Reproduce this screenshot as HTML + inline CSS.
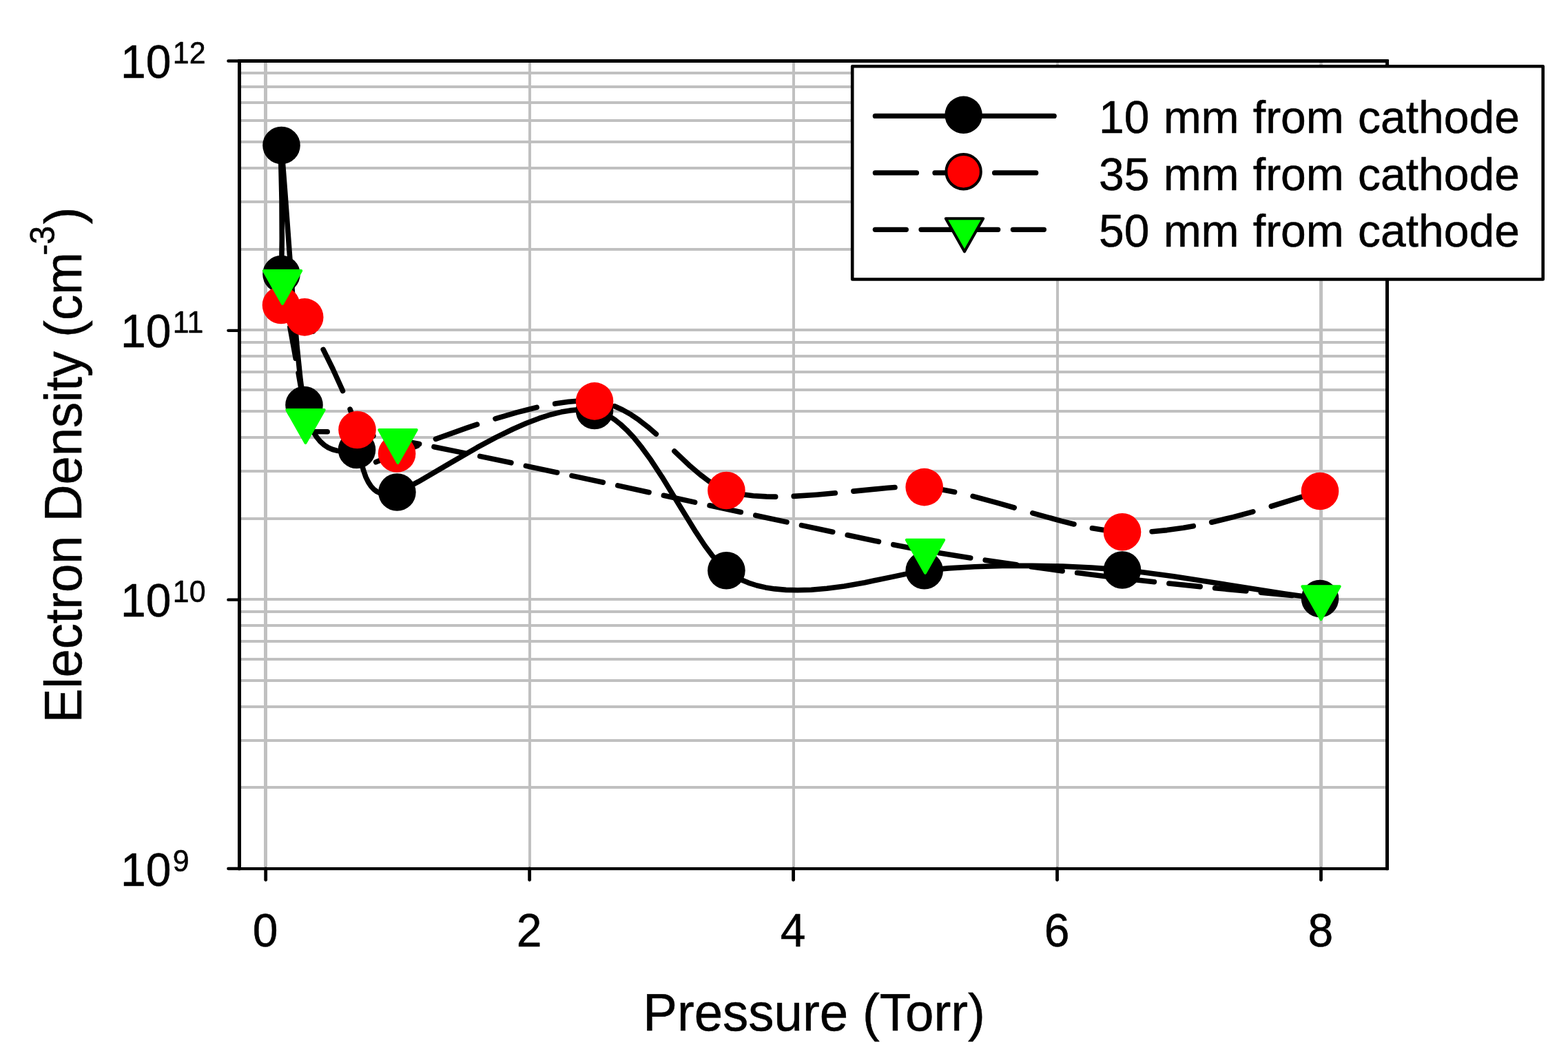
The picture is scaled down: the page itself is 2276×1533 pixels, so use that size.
<!DOCTYPE html>
<html lang="en"><head><meta charset="utf-8"><title>Electron Density vs Pressure</title>
<style>html,body{margin:0;padding:0;background:#fff}body{width:2276px;height:1533px;overflow:hidden}svg{display:block}text{font-family:"Liberation Sans",sans-serif;fill:#000;stroke:#000;stroke-width:0.5px;stroke-linejoin:round}</style>
</head><body>
<svg width="2276" height="1533" viewBox="0 0 2276 1533">
<rect x="0" y="0" width="2276" height="1533" fill="#fff"/>
<g fill="#c0c0c0" shape-rendering="crispEdges">
<rect x="350" y="1141" width="1661" height="4"/>
<rect x="350" y="1073" width="1661" height="4"/>
<rect x="350" y="1024" width="1661" height="4"/>
<rect x="350" y="986" width="1661" height="4"/>
<rect x="350" y="955" width="1661" height="4"/>
<rect x="350" y="929" width="1661" height="4"/>
<rect x="350" y="906" width="1661" height="4"/>
<rect x="350" y="886" width="1661" height="4"/>
<rect x="350" y="868" width="1661" height="4"/>
<rect x="350" y="751" width="1661" height="4"/>
<rect x="350" y="682" width="1661" height="4"/>
<rect x="350" y="633" width="1661" height="4"/>
<rect x="350" y="595" width="1661" height="4"/>
<rect x="350" y="564" width="1661" height="4"/>
<rect x="350" y="538" width="1661" height="4"/>
<rect x="350" y="515" width="1661" height="4"/>
<rect x="350" y="495" width="1661" height="4"/>
<rect x="350" y="477" width="1661" height="4"/>
<rect x="350" y="360" width="1661" height="4"/>
<rect x="350" y="291" width="1661" height="4"/>
<rect x="350" y="242" width="1661" height="4"/>
<rect x="350" y="204" width="1661" height="4"/>
<rect x="350" y="173" width="1661" height="4"/>
<rect x="350" y="147" width="1661" height="4"/>
<rect x="350" y="124" width="1661" height="4"/>
<rect x="350" y="104" width="1661" height="4"/>
<rect x="383" y="91" width="5" height="1168"/>
<rect x="767" y="91" width="4" height="1168"/>
<rect x="1150" y="91" width="4" height="1168"/>
<rect x="1533" y="91" width="4" height="1168"/>
<rect x="1915" y="91" width="5" height="1168"/>
</g>
<g fill="none" stroke="#000" stroke-width="7.6" stroke-linecap="round" stroke-linejoin="round">
<path d="M408.5,398.0 L409.3,347.0 L409.0,289.3 L407.3,216.4 L407.1,199.3 L408.5,211.0 L413.8,280.0 L424.7,428.4 L431.2,504.1 L436.1,551.3 L439.6,577.5 L442.4,592.3 L446.0,605.9 L450.2,617.4 L454.9,627.0 L459.9,634.9 L465.2,641.2 L470.7,646.1 L476.3,649.7 L482.7,652.5 L488.9,654.2 L496.4,655.0 L504.6,654.6 L517.3,652.9 L518.6,653.2 L519.9,654.9 L521.9,660.5 L527.5,682.6 L530.9,692.3 L534.6,699.9 L538.6,706.0 L542.8,710.5 L547.0,713.6 L551.8,715.9 L557.2,717.2 L563.3,717.4 L570.1,716.4 L577.7,714.0 L589.6,708.7 L607.5,699.2 L654.1,671.9 L692.5,649.7 L719.6,635.2 L744.4,623.0 L763.7,614.5 L782.8,607.2 L798.9,602.0 L814.7,598.1 L827.4,595.9 L839.8,594.7 L851.7,594.7 L860.8,595.6 L868.6,597.3 L875.9,599.9 L883.2,603.4 L892.1,609.1 L900.9,616.1 L909.6,624.2 L919.9,635.2 L931.6,649.7 L944.8,667.8 L960.9,692.3 L987.3,735.6 L1009.9,772.2 L1023.0,792.0 L1033.1,805.6 L1041.7,815.9 L1050.2,824.5 L1058.3,831.2 L1066.4,836.6 L1075.0,841.3 L1086.5,846.1 L1098.7,850.0 L1111.4,852.9 L1124.6,854.9 L1140.9,856.4 L1157.7,856.8 L1177.5,856.2 L1200.3,854.3 L1225.6,850.9 L1255.4,845.7 L1296.7,837.1 L1330.8,829.9 L1344.0,827.9 L1377.4,824.9 L1414.5,822.7 L1455.0,821.4 L1498.1,821.2 L1542.5,822.1 L1584.5,824.1 L1623.0,826.9 L1658.7,830.7 L1703.8,836.7 L1774.7,847.8 L1864.9,862.0 L1911.5,868.4 L1916.0,869.0"/>
<path d="M408.6,442.0 L411.8,437.5 L414.2,435.6 L416.7,434.8 L419.3,435.2 L422.7,436.9 L427.2,440.7 L433.4,447.9 L441.6,459.5 L453.2,478.4 L454.7,480.9 M469.2,507.4 L483.2,535.8 L496.1,564.2 L497.5,567.5 M508.1,594.1 L516.6,618.0 L522.2,636.7 L526.4,654.2 M545.7,670.8 L574.6,659.1 L605.8,647.2 M632.4,637.3 L677.0,621.4 L692.5,616.2 M719.0,607.8 L750.6,598.6 L779.1,591.4 M805.7,586.1 L825.2,583.3 L840.9,582.0 L853.4,581.8 L865.0,582.6 L865.8,582.7 M892.3,589.7 L903.7,595.0 L915.8,601.8 L927.4,609.7 L940.3,619.7 L952.4,630.1 M978.9,655.0 L1002.1,676.9 L1016.8,689.4 L1028.6,698.3 L1039.0,704.8 M1065.6,715.4 L1077.7,717.8 L1093.3,719.8 L1112.6,720.9 L1125.7,721.1 M1152.2,720.4 L1185.2,718.2 L1212.3,715.8 M1238.9,713.1 L1288.9,708.3 L1299.0,707.5 M1325.5,706.4 L1338.7,706.8 L1357.8,709.1 L1379.0,712.9 L1385.6,714.2 M1412.1,720.4 L1448.1,730.1 L1472.2,737.0 M1498.8,744.8 L1540.5,756.4 L1558.9,761.0 M1585.4,766.8 L1605.6,770.1 L1622.8,771.9 L1640.4,772.6 L1645.5,772.7 M1672.1,771.7 L1693.9,769.6 L1717.7,766.3 L1732.2,763.7 M1758.7,758.2 L1790.0,750.6 L1818.8,742.8 M1845.3,735.0 L1905.4,716.3"/>
<path d="M410.0,408.3 L417.2,453.5 M420.9,475.0 L429.2,520.2 M433.1,541.7 L440.4,583.6 L440.9,586.9 M443.4,608.3 L444.2,620.1 L445.1,623.2 L446.7,624.9 L449.6,626.0 L456.7,626.5 L475.2,626.7 M496.7,627.8 L522.6,630.2 L541.9,632.8 M563.4,636.1 L608.6,644.5 M630.0,648.7 L675.2,657.9 M696.7,662.4 L741.9,671.8 M763.4,676.4 L808.6,686.0 M830.1,690.6 L875.3,700.3 M896.8,704.9 L942.0,714.7 M963.4,719.3 L1008.6,729.1 M1030.1,733.8 L1075.3,743.5 M1096.8,748.2 L1142.0,757.9 M1163.5,762.6 L1208.7,772.2 M1230.2,776.8 L1275.4,786.3 M1296.8,790.7 L1338.6,798.8 L1342.0,799.3 M1363.5,802.8 L1408.7,809.9 M1430.2,813.2 L1475.4,819.8 M1496.9,822.8 L1542.1,828.9 M1563.6,831.6 L1608.8,837.2 M1630.2,839.7 L1675.4,844.7 M1696.9,847.0 L1742.1,851.6 M1763.6,853.7 L1808.8,858.0 M1830.3,860.1 L1875.5,864.4 M1897.0,866.5 L1917.5,868.5"/>
</g>
<g>
<circle cx="408.5" cy="398" r="27.3" fill="#000"/>
<circle cx="408.5" cy="211" r="27.3" fill="#000"/>
<circle cx="441.5" cy="588" r="27.3" fill="#000"/>
<circle cx="518" cy="653" r="27.3" fill="#000"/>
<circle cx="576.4" cy="714.5" r="27.3" fill="#000"/>
<circle cx="863" cy="596" r="27.3" fill="#000"/>
<circle cx="1054.4" cy="828.2" r="27.3" fill="#000"/>
<circle cx="1341.7" cy="828.2" r="27.3" fill="#000"/>
<circle cx="1629" cy="827.5" r="27.3" fill="#000"/>
<circle cx="1916" cy="869" r="27.3" fill="#000"/>
<circle cx="408" cy="443" r="27.3" fill="#f00"/>
<circle cx="442.2" cy="460.4" r="27.3" fill="#f00"/>
<circle cx="518.5" cy="624" r="27.3" fill="#f00"/>
<circle cx="576.1" cy="658.5" r="27.3" fill="#f00"/>
<circle cx="863" cy="582.4" r="27.3" fill="#f00"/>
<circle cx="1054.4" cy="712" r="27.3" fill="#f00"/>
<circle cx="1341.7" cy="707.1" r="27.3" fill="#f00"/>
<circle cx="1629" cy="772.3" r="27.3" fill="#f00"/>
<circle cx="1916" cy="713" r="27.3" fill="#f00"/>
<polygon points="382.8,393 437.2,393 410,441" fill="#0f0" stroke="#0f0" stroke-width="4" stroke-linejoin="round"/>
<polygon points="416.3,595 470.7,595 443.5,643" fill="#0f0" stroke="#0f0" stroke-width="4" stroke-linejoin="round"/>
<polygon points="550.3,624.1 604.7,624.1 577.5,672.1" fill="#0f0" stroke="#0f0" stroke-width="4" stroke-linejoin="round"/>
<polygon points="1315.8,783.8 1370.2,783.8 1343,831.8" fill="#0f0" stroke="#0f0" stroke-width="4" stroke-linejoin="round"/>
<polygon points="1890.3,851.2 1944.7,851.2 1917.5,899.2" fill="#0f0" stroke="#0f0" stroke-width="4" stroke-linejoin="round"/>
</g>
<g fill="#000">
<rect x="345" y="86" width="1671" height="5" rx="1.5"/>
<rect x="345" y="86" width="5" height="1177.2" rx="1.5"/>
<rect x="2011" y="86" width="5" height="1177.2" rx="1.5"/>
<rect x="345" y="1259.1" width="1671" height="4.1" rx="1.5"/>
</g>
<g stroke="#000" fill="none" stroke-linecap="round">
<line stroke-width="4.4" x1="331.4" y1="1261" x2="347.5" y2="1261"/>
<line stroke-width="4.4" x1="331.4" y1="870.67" x2="347.5" y2="870.67"/>
<line stroke-width="4.4" x1="331.4" y1="479.83" x2="347.5" y2="479.83"/>
<line stroke-width="4.4" x1="331.4" y1="88.5" x2="347.5" y2="88.5"/>
<line stroke-width="4.8" x1="385.7" y1="1261" x2="385.7" y2="1277.3"/>
<line stroke-width="4.8" x1="768.64" y1="1261" x2="768.64" y2="1277.3"/>
<line stroke-width="4.8" x1="1151.58" y1="1261" x2="1151.58" y2="1277.3"/>
<line stroke-width="4.8" x1="1534.52" y1="1261" x2="1534.52" y2="1277.3"/>
<line stroke-width="4.8" x1="1917.46" y1="1261" x2="1917.46" y2="1277.3"/>
</g>
<rect x="1237.2" y="96.2" width="1002.5" height="309.3" fill="#fff" stroke="#000" stroke-width="4.6" stroke-linejoin="round"/>
<g fill="none" stroke="#000" stroke-width="7.2" stroke-linecap="round">
<line x1="1270.3" y1="168.4" x2="1530.2" y2="168.4"/>
<line x1="1270.3" y1="250.9" x2="1504.2" y2="250.9" stroke-dasharray="60.2 26.44"/>
<line x1="1270.3" y1="333.3" x2="1516.2" y2="333.3" stroke-dasharray="45.1 21.58"/>
</g>
<circle cx="1398.6" cy="166.8" r="27.2" fill="#000"/>
<circle cx="1398.6" cy="249.2" r="25.2" fill="#f00" stroke="#000" stroke-width="4"/>
<polygon points="1372.8,317.3 1427.2,317.3 1400,365.3" fill="#0f0" stroke="#000" stroke-width="4" stroke-linejoin="round"/>
<text transform="translate(175,1285.6) scale(1,1.04)" font-size="66">10<tspan font-size="42.9" dx="2.4" dy="-20.19">9</tspan></text>
<text transform="translate(175,894.77) scale(1,1.04)" font-size="66">10<tspan font-size="42.9" dx="2.4" dy="-20.19">10</tspan></text>
<text transform="translate(175,503.93) scale(1,1.04)" font-size="66">10<tspan font-size="42.9" dx="2.4" dy="-20.19">11</tspan></text>
<text transform="translate(175,113.1) scale(1,1.04)" font-size="66">10<tspan font-size="42.9" dx="2.4" dy="-20.19">12</tspan></text>
<text transform="translate(385.2,1374.3) scale(1,1.04)" font-size="66" text-anchor="middle">0</text>
<text transform="translate(768.14,1374.3) scale(1,1.04)" font-size="66" text-anchor="middle">2</text>
<text transform="translate(1151.08,1374.3) scale(1,1.04)" font-size="66" text-anchor="middle">4</text>
<text transform="translate(1534.02,1374.3) scale(1,1.04)" font-size="66" text-anchor="middle">6</text>
<text transform="translate(1916.96,1374.3) scale(1,1.04)" font-size="66" text-anchor="middle">8</text>
<text transform="translate(933.2,1495.8) scale(1,1.015)" font-size="74.5" text-anchor="start" letter-spacing="0">Pressure (Torr)</text>
<text transform="translate(118,1049.3) rotate(-90) scale(1,1.015)" font-size="74.5" letter-spacing="-0.2">Electron Density (cm<tspan font-size="48.4" dx="-4.5" dy="-38.92">-3</tspan><tspan dx="2.6" dy="38.92">)</tspan></text>
<text transform="translate(1595,193.2) scale(1,1.015)" font-size="66" text-anchor="start" letter-spacing="0" word-spacing="1.9">10 mm from cathode</text>
<text transform="translate(1595,275.8) scale(1,1.015)" font-size="66" text-anchor="start" letter-spacing="0" word-spacing="1.9">35 mm from cathode</text>
<text transform="translate(1595,358.4) scale(1,1.015)" font-size="66" text-anchor="start" letter-spacing="0" word-spacing="1.9">50 mm from cathode</text>
</svg>
</body></html>
